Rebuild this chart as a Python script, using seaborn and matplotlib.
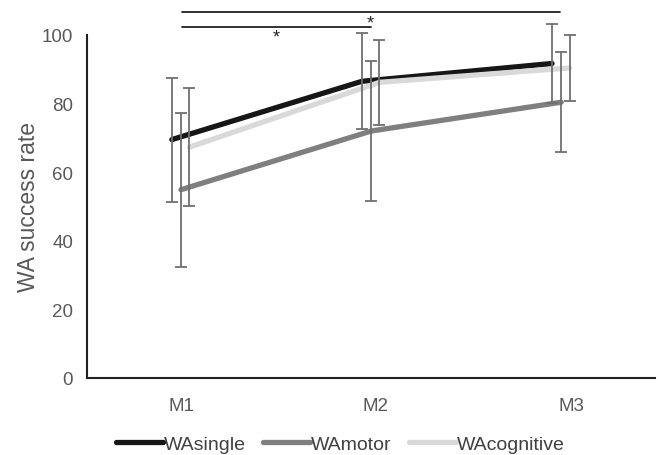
import matplotlib
matplotlib.use("Agg")
import matplotlib.pyplot as plt
import seaborn as sns
import pandas as pd

sessions = ["M1", "M2", "M3"]
groups = ["WAsingle", "WAmotor", "WAcognitive"]
single_mean = [69.5, 86.5, 91.7]
single_sd = [18.1, 14.0, 11.5]
motor_mean = [54.9, 72.0, 80.4]
motor_sd = [22.5, 20.3, 14.5]
cognitive_mean = [67.3, 86.2, 90.4]
cognitive_sd = [17.2, 12.4, 9.7]

colors = {"WAsingle": "#161616", "WAmotor": "#7f7f7f", "WAcognitive": "#d9d9d9"}
dodge = {"WAsingle": -0.047, "WAmotor": 0.0, "WAcognitive": 0.043}
spread = 0.975

rows = []
for g, means, sds in zip(groups, [single_mean, motor_mean, cognitive_mean],
                         [single_sd, motor_sd, cognitive_sd]):
    for i, (m, s) in enumerate(zip(means, sds)):
        rows.append({"group": g, "session": sessions[i], "x": i * spread + dodge[g],
                     "mean": m, "sd": s})
df = pd.DataFrame(rows)

sns.set_style("white")
plt.rcParams["font.family"] = ["Liberation Sans", "DejaVu Sans"]

fig = plt.figure(figsize=(6.61, 4.56), dpi=100)
ax = fig.add_axes([87 / 661, 1 - 379 / 456, (655 - 87) / 661, (379 - 36) / 456])

sns.lineplot(data=df, x="x", y="mean", hue="group", hue_order=groups,
             palette=colors, linewidth=3.8, ax=ax, zorder=2,
             solid_capstyle="round", solid_joinstyle="round")

for g in groups:
    sub = df[df.group == g]
    eb = ax.errorbar(sub["x"], sub["mean"], yerr=sub["sd"], fmt="none",
                     ecolor="#6f6f6f", elinewidth=1.3, capsize=4, capthick=1.3, zorder=3)
    for art in eb.get_children():
        art.set_clip_on(False)

# significance brackets
ax.plot([0.004, 1.946], [106.7, 106.7], color="#222222", lw=1.3, clip_on=False)
ax.plot([0.004, 0.977], [102.4, 102.4], color="#222222", lw=1.3, clip_on=False)
ax.text(0.969, 103.6, "*", ha="center", va="center", fontsize=13, color="#222222")
ax.text(0.49, 99.3, "*", ha="center", va="center", fontsize=13, color="#222222")

ax.set_xlim(-0.482, 2.431)
ax.set_ylim(0, 100)
ax.set_xticks(range(len(sessions)))
ax.set_xticklabels(sessions)
ax.set_yticks([0, 20, 40, 60, 80, 100])
ax.tick_params(axis="y", length=0, labelsize=13.5, labelcolor="#595959", pad=10)
ax.tick_params(axis="x", length=0, labelsize=13.5, labelcolor="#595959", pad=14)
ax.set_xlabel("")
ax.set_ylabel("WA success rate", fontsize=16.5, color="#595959", labelpad=1)
for side in ["top", "right"]:
    ax.spines[side].set_visible(False)
for side in ["left", "bottom"]:
    ax.spines[side].set_color("#222222")
    ax.spines[side].set_linewidth(1.5)

handles, labels = ax.get_legend_handles_labels()
for h in handles:
    h.set_solid_capstyle("round")
ax.legend(handles, labels, loc="center", bbox_to_anchor=(0.515, 0.024),
          bbox_transform=fig.transFigure, ncol=3, frameon=False, fontsize=14,
          handlelength=2.4, handletextpad=0.05, columnspacing=0.9, labelcolor="#404040")

fig.savefig("out.png", dpi=100)
